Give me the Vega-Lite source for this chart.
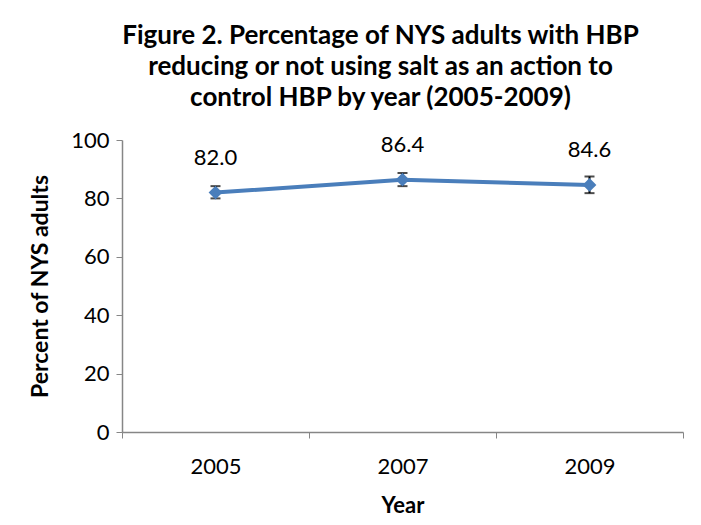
{
  "$schema": "https://vega.github.io/schema/vega-lite/v6.json",
  "autosize": "none",
  "width": 561,
  "height": 292,
  "padding": {"left": 122, "top": 140, "right": 18, "bottom": 93},
  "background": "white",
  "config": {
    "view": {"stroke": null},
    "font": "Lato"
  },
  "title": {
    "text": ["Figure 2. Percentage of NYS adults with HBP", "reducing or not using salt as an action to", "control HBP by year (2005-2009)"],
    "font": "Lato",
    "fontSize": 26,
    "fontWeight": "bold",
    "color": "black",
    "lineHeight": 31,
    "offset": 18,
    "dx": -22,
    "anchor": "middle"
  },
  "data": {
    "values": [
      {"year": "2005", "pct": 82.0, "lo": 80.0, "hi": 84.2},
      {"year": "2007", "pct": 86.4, "lo": 84.2, "hi": 88.7},
      {"year": "2009", "pct": 84.6, "lo": 81.8, "hi": 87.5}
    ]
  },
  "encoding": {
    "x": {
      "field": "year",
      "type": "ordinal",
      "scale": {"type": "band", "paddingInner": 0, "paddingOuter": 0},
      "axis": {
        "title": "Year",
        "titleFont": "Lato",
        "titleFontSize": 22,
        "titleFontWeight": "bold",
        "titleColor": "black",
        "titleY": 63,
        "titleBaseline": "top",
        "labelAngle": 0,
        "labelFont": "Lato",
        "labelFontSize": 22,
        "labelColor": "black",
        "labelPadding": 18,
        "tickBand": "extent",
        "tickSize": 6,
        "tickColor": "#868686",
        "domainColor": "#868686",
        "domainWidth": 1.5,
        "grid": false
      }
    }
  },
  "layer": [
    {
      "mark": {"type": "rule", "color": "black", "strokeWidth": 2},
      "encoding": {
        "y": {"field": "lo", "type": "quantitative"},
        "y2": {"field": "hi"}
      }
    },
    {
      "mark": {"type": "tick", "color": "black", "thickness": 2, "size": 10, "orient": "horizontal"},
      "encoding": {"y": {"field": "lo", "type": "quantitative"}}
    },
    {
      "mark": {"type": "tick", "color": "black", "thickness": 2, "size": 10, "orient": "horizontal"},
      "encoding": {"y": {"field": "hi", "type": "quantitative"}}
    },
    {
      "mark": {"type": "line", "color": "#4a7ebb", "strokeWidth": 4},
      "encoding": {
        "y": {
          "field": "pct",
          "type": "quantitative",
          "scale": {"domain": [0, 100]},
          "axis": {
            "title": "Percent of NYS adults",
            "titleFont": "Lato",
            "titleFontSize": 23,
            "titleFontWeight": "bold",
            "titleColor": "black",
            "titleX": -82,
            "titleY": 146,
            "titleAngle": -90,
            "titleAlign": "center",
            "titleBaseline": "middle",
            "values": [0, 20, 40, 60, 80, 100],
            "labelFont": "Lato",
            "labelFontSize": 22,
            "labelColor": "black",
            "labelPadding": 7,
            "tickSize": 6,
            "tickColor": "#868686",
            "domainColor": "#868686",
            "domainWidth": 1.5,
            "grid": false
          }
        }
      }
    },
    {
      "mark": {"type": "point", "shape": "diamond", "filled": true, "color": "#4a7ebb", "size": 190, "opacity": 1},
      "encoding": {"y": {"field": "pct", "type": "quantitative"}}
    },
    {
      "mark": {"type": "text", "dy": -35, "fontSize": 22, "font": "Lato", "color": "black"},
      "encoding": {
        "y": {"field": "pct", "type": "quantitative"},
        "text": {"field": "pct", "type": "quantitative", "format": ".1f"}
      }
    }
  ]
}
